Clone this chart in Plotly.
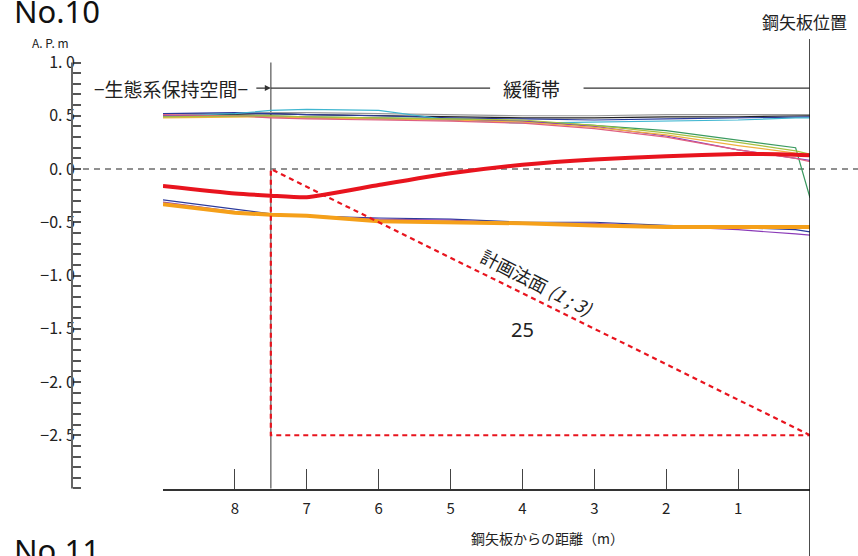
import plotly.graph_objects as go

# ---------------- data ----------------
dist = [9, 8, 7.5, 7, 6, 5, 4, 3, 2, 1, 0.2, 0]

thin_top = {
    "gray":   ([0.52, 0.52, 0.53, 0.53, 0.52, 0.51, 0.50, 0.50, 0.51, 0.51, 0.51, 0.51], "#9a9a9a"),
    "black":  ([0.50, 0.51, 0.52, 0.51, 0.50, 0.49, 0.48, 0.48, 0.49, 0.49, 0.50, 0.50], "#222222"),
    "navy":   ([0.52, 0.53, 0.52, 0.51, 0.50, 0.48, 0.47, 0.46, 0.47, 0.48, 0.49, 0.49], "#2b3a9c"),
    "teal":   ([0.50, 0.52, 0.55, 0.56, 0.55, 0.46, 0.43, 0.44, 0.45, 0.46, 0.48, 0.48], "#3fb6d0"),
    "green":  ([0.49, 0.50, 0.50, 0.49, 0.48, 0.47, 0.45, 0.41, 0.36, 0.27, 0.20, -0.27], "#3a9a60"),
    "purple": ([0.50, 0.50, 0.49, 0.48, 0.47, 0.46, 0.45, 0.40, 0.31, 0.18, 0.10, 0.08], "#8a3ab8"),
    "yellow": ([0.48, 0.49, 0.49, 0.48, 0.47, 0.46, 0.44, 0.39, 0.32, 0.22, 0.15, 0.12], "#f0b040"),
    "pink":   ([0.51, 0.50, 0.48, 0.47, 0.46, 0.45, 0.43, 0.38, 0.30, 0.18, 0.10, 0.07], "#e06080"),
    "olive":  ([0.49, 0.50, 0.50, 0.49, 0.48, 0.47, 0.46, 0.41, 0.34, 0.25, 0.17, 0.14], "#a8c040"),
}
thin_low = {
    "navy2":   ([-0.29, -0.38, -0.42, -0.44, -0.46, -0.47, -0.50, -0.50, -0.53, -0.55, -0.57, -0.59], "#2b3a9c"),
    "purple2": ([-0.31, -0.40, -0.43, -0.44, -0.47, -0.48, -0.51, -0.51, -0.54, -0.57, -0.61, -0.62], "#8a3ab8"),
}
red_thick = [-0.16, -0.23, -0.25, -0.265, -0.15, -0.04, 0.04, 0.09, 0.12, 0.14, 0.135, 0.13]
orange_thick = [-0.33, -0.41, -0.43, -0.44, -0.49, -0.50, -0.51, -0.53, -0.545, -0.545, -0.545, -0.545]

# planned slope (1:3) outline
plan_x = [0, 7.5, 7.5, 0]
plan_y = [-2.5, 0, -2.5, -2.5]

y_tickvals = [1.0, 0.5, 0.0, -0.5, -1.0, -1.5, -2.0, -2.5]
y_ticktext = ["1.\u00a00", "0.\u00a05", "0.\u00a00", "−0.\u00a05", "−1.\u00a00",
              "−1.\u00a05", "−2.\u00a00", "−2.\u00a05"]
y_minor = [round(-3.0 + 0.1 * i, 1) for i in range(41)]
x_tickvals = [9, 8, 7, 6, 5, 4, 3, 2, 1, 0]
x_ticktext = ["", "8", "7", "6", "5", "4", "3", "2", "1", ""]

W, H = 858, 556
FONT = "Noto Sans CJK JP, Noto Sans, sans-serif"

fig = go.Figure()
for name, (vals, col) in list(thin_top.items()) + list(thin_low.items()):
    fig.add_trace(go.Scatter(x=dist, y=vals, mode="lines", name=name,
                             line=dict(color=col, width=1.2)))
fig.add_trace(go.Scatter(x=dist, y=orange_thick, mode="lines", name="orange",
                         line=dict(color="#f5a01a", width=4)))
fig.add_trace(go.Scatter(x=dist, y=red_thick, mode="lines", name="red",
                         line=dict(color="#e8141e", width=4, shape="spline", smoothing=0.5)))
fig.add_trace(go.Scatter(x=plan_x, y=plan_y, mode="lines", name="plan",
                         line=dict(color="#e8141e", width=2.2, dash="5px,4px")))

shapes = [
    dict(type="line", xref="paper", yref="y", x0=72 / W, x1=1, y0=0, y1=0,
         line=dict(color="#222", width=1.2, dash="6px,5px"), layer="below"),
    dict(type="line", xref="paper", yref="y", x0=72 / W, x1=72 / W, y0=1.0, y1=-3.0,
         line=dict(color="#666", width=2)),
    dict(type="line", xref="x", yref="y", x0=7.5, x1=7.5, y0=1.0, y1=-3.0,
         line=dict(color="#777", width=1.5), layer="below"),
    dict(type="line", xref="x", yref="y", x0=0, x1=0, y0=1.22, y1=-3.7,
         line=dict(color="#111", width=1.5)),
    dict(type="line", xref="x", yref="y", x0=7.5, x1=4.45, y0=0.76, y1=0.76,
         line=dict(color="#333", width=1.3)),
    dict(type="line", xref="x", yref="y", x0=3.15, x1=0, y0=0.76, y1=0.76,
         line=dict(color="#333", width=1.3)),
]

annotations = [
    dict(text="No.10", xref="paper", yref="paper", x=12 / W, y=1 - 11 / H,
         xanchor="left", yanchor="middle", showarrow=False,
         font=dict(family="Noto Sans, sans-serif", size=31, color="#111")),
    dict(text="No.11", xref="paper", yref="paper", x=12 / W, y=1 - 550 / H,
         xanchor="left", yanchor="middle", showarrow=False,
         font=dict(family="Noto Sans, sans-serif", size=31, color="#111")),
    dict(text="A. P. m", xref="paper", yref="paper", x=50 / W, y=1 - 43 / H,
         xanchor="center", yanchor="middle", showarrow=False,
         font=dict(family=FONT, size=12, color="#222")),
    dict(text="鋼矢板位置", xref="paper", yref="paper", x=760 / W, y=1 - 22 / H,
         xanchor="left", yanchor="middle", showarrow=False,
         font=dict(family=FONT, size=17, color="#222")),
    dict(text="−生態系保持空間−", xref="paper", yref="y", x=171 / W, y=0.76,
         xanchor="center", yanchor="middle", showarrow=False,
         font=dict(family=FONT, size=19, color="#222")),
    dict(text="", xref="x", yref="y", x=7.5, y=0.76, ax=-16, ay=0,
         showarrow=True, arrowhead=2, arrowsize=1, arrowwidth=1.2, arrowcolor="#333"),
    dict(text="緩衝帯", xref="x", yref="y", x=3.88, y=0.76,
         xanchor="center", yanchor="middle", showarrow=False,
         font=dict(family=FONT, size=19, color="#222")),
    dict(text="計画法面 <i>(1 ; 3)</i>", xref="x", yref="y", x=3.8, y=-1.06,
         xanchor="center", yanchor="middle", showarrow=False, textangle=27,
         font=dict(family=FONT, size=18, color="#222")),
    dict(text="25", xref="x", yref="y", x=4.0, y=-1.51,
         xanchor="center", yanchor="middle", showarrow=False,
         font=dict(family="Liberation Sans Narrow, Noto Sans, sans-serif", size=20, color="#222")),
    dict(text="鋼矢板からの距離（m）", xref="paper", yref="paper", x=547 / W, y=1 - 538 / H,
         xanchor="center", yanchor="middle", showarrow=False,
         font=dict(family=FONT, size=14, color="#222")),
]

fig.update_layout(
    width=W, height=H,
    margin=dict(l=0, r=0, t=0, b=0),
    paper_bgcolor="white", plot_bgcolor="white",
    showlegend=False,
    shapes=shapes, annotations=annotations,
    xaxis=dict(domain=[163 / W, 810 / W], range=[9, 0], anchor="free",
               position=1 - 490 / H, showline=True, linecolor="#333", linewidth=1.5,
               ticks="inside", ticklen=20, tickwidth=1.3, tickcolor="#444",
               tickvals=x_tickvals, ticktext=x_ticktext, showgrid=False, zeroline=False,
               ticklabelstandoff=5,
               tickfont=dict(family=FONT, size=15, color="#222")),
    yaxis=dict(domain=[0, 1], range=[-3.634, 1.587], anchor="free", position=72 / W,
               showline=False, ticks="inside", ticklen=8, tickwidth=1.5, tickcolor="#555",
               tickvals=y_tickvals, ticktext=y_ticktext, showgrid=False, zeroline=False,
               ticklabelstandoff=-3,
               minor=dict(tickvals=y_minor, ticks="inside", ticklen=8, tickwidth=1.5,
                          tickcolor="#555", showgrid=False),
               tickfont=dict(family=FONT, size=16, color="#222")),
)

fig.write_html("out.html", config={"displayModeBar": False},
               post_script="document.body.style.margin='0px';")
